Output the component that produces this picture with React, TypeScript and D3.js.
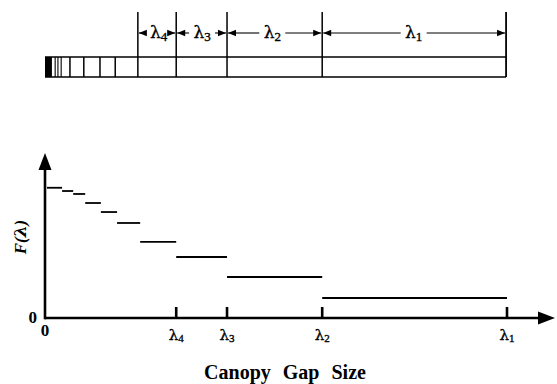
import React from "react";
import * as d3 from "d3";

// Gap-size class edges along the transect (size units)
const classEdges = [0, 3.7, 6.1, 8.7, 12.1, 15.6, 20.6, 28.4, 39.4, 60.0, 100];
// Fraction of gaps F(λ) per class
const fValues = [0.88, 0.858, 0.838, 0.777, 0.716, 0.642, 0.514, 0.412, 0.277, 0.135];

// Transect dividers (gap boundaries) drawn in the strip above
const stripFillEnd = 1.5;
const stripDividers = [2.2, 2.8, 3.5, 5.4, 8.4, 11.9, 15.2, 20.1, 28.4, 39.4, 60.0];
const stripEnd = 99.8;

// Labelled gap intervals
const lambdaNames = ["4", "3", "2", "1"];
const lambdaStart = [20.1, 28.4, 39.4, 60.0];
const lambdaEnd = [28.4, 39.4, 60.0, 100];
const lambdaLabelPos = [24.6, 34.0, 49.2, 79.8];

const W = 557;
const H = 384;
const serif = "'Liberation Serif', 'DejaVu Serif', serif";
const greek = "'DejaVu Serif', serif";

export default function App() {
  const x = d3.scaleLinear().domain([0, 100]).range([45, 507]);
  const y = d3.scaleLinear().domain([0, 1]).range([318, 170]);
  const xAxisEnd = 555;
  const yAxisTop = 153;

  const stripTop = 57;
  const stripBottom = 77;
  const dimTop = 12;
  const dimY = 33;

  const arrowHead = (px: number, py: number, dir: "l" | "r", len = 8, hw = 3.2) => {
    const s = dir === "r" ? -1 : 1;
    return `M${px},${py} L${px + s * len},${py - hw} L${px + s * len},${py + hw} Z`;
  };

  const labelHalf = 10;
  const glyph = { stroke: "#000", strokeWidth: 0.35 };

  return (
    <svg width={W} height={H} style={{ display: "block", position: "absolute", left: 0, top: 0, background: "#fff" }}>
      {/* transect strip */}
      <rect x={x(0)} y={stripTop} width={x(stripFillEnd) - x(0)} height={stripBottom - stripTop} fill="#000" />
      <line x1={x(0)} x2={x(stripEnd)} y1={stripTop} y2={stripTop} stroke="#000" strokeWidth={1.3} />
      <line x1={x(0)} x2={x(stripEnd)} y1={stripBottom} y2={stripBottom} stroke="#000" strokeWidth={1.3} />
      {stripDividers.map((d, i) => (
        <line key={i} x1={x(d)} x2={x(d)} y1={d >= 20 ? dimTop : stripTop} y2={stripBottom}
          stroke="#000" strokeWidth={d > 5 ? 1.5 : 1.1} />
      ))}
      <line x1={x(stripEnd)} x2={x(stripEnd)} y1={dimTop} y2={stripBottom} stroke="#000" strokeWidth={1.8} />

      {/* dimension arrows */}
      {lambdaNames.map((n, i) => {
        const a = x(lambdaStart[i]) + 1;
        const b = (i === 3 ? x(stripEnd) : x(lambdaEnd[i])) - 1;
        const c = x(lambdaLabelPos[i]);
        return (
          <g key={n}>
            <line x1={a} x2={c - labelHalf - 3} y1={dimY} y2={dimY} stroke="#000" strokeWidth={1.1} />
            <line x1={c + labelHalf + 3} x2={b} y1={dimY} y2={dimY} stroke="#000" strokeWidth={1.1} />
            <path d={arrowHead(a, dimY, "l")} fill="#000" />
            <path d={arrowHead(b, dimY, "r")} fill="#000" />
            <text x={c} y={dimY + 5} textAnchor="middle" fontFamily={greek} fontSize={17} {...glyph}>
              λ<tspan fontFamily={serif} fontSize={13} dy={3}>{n}</tspan>
            </text>
          </g>
        );
      })}

      {/* step function */}
      {fValues.map((f, i) => (
        <line key={i} x1={x(classEdges[i]) + (i === 0 ? 2 : 0)} x2={x(classEdges[i + 1])}
          y1={y(f)} y2={y(f)} stroke="#000" strokeWidth={1.8} />
      ))}

      {/* axes */}
      <line x1={x(0)} x2={xAxisEnd - 10} y1={y(0)} y2={y(0)} stroke="#000" strokeWidth={2.6} />
      <path d={`M${xAxisEnd},${y(0)} L${xAxisEnd - 17},${y(0) - 6.5} L${xAxisEnd - 17},${y(0) + 6.5} Z`} fill="#000" />
      <line x1={x(0)} x2={x(0)} y1={y(0) + 1.3} y2={yAxisTop + 10} stroke="#000" strokeWidth={2.6} />
      <path d={`M${x(0)},${yAxisTop} L${x(0) - 6.5},${yAxisTop + 17} L${x(0) + 6.5},${yAxisTop + 17} Z`} fill="#000" />

      {/* ticks */}
      {lambdaNames.map((n, i) => (
        <g key={n}>
          <line x1={x(lambdaEnd[i])} x2={x(lambdaEnd[i])} y1={y(0) - 11} y2={y(0)} stroke="#000" strokeWidth={2.6} />
          <text x={x(lambdaEnd[i])} y={y(0) + 22} textAnchor="middle" fontFamily={greek} fontSize={15} {...glyph}>
            λ<tspan fontFamily={serif} fontSize={11} dy={2}>{n}</tspan>
          </text>
        </g>
      ))}
      <text x={x(0)} y={y(0) + 18} textAnchor="middle" fontFamily={serif} fontSize={17} fontWeight="bold">0</text>
      <text x={x(0) - 8} y={y(0) + 5} textAnchor="end" fontFamily={serif} fontSize={17} fontWeight="bold">0</text>

      {/* axis titles */}
      <text transform={`translate(26,${237}) rotate(-90)`} textAnchor="middle" fontFamily={serif}
        fontSize={17} fontWeight="bold" fontStyle="italic">F(<tspan fontFamily={greek}>λ</tspan>)</text>
      <text x={285} y={379} textAnchor="middle" fontFamily={serif} fontSize={20} fontWeight="bold"
        wordSpacing={7}>Canopy Gap Size</text>
    </svg>
  );
}
